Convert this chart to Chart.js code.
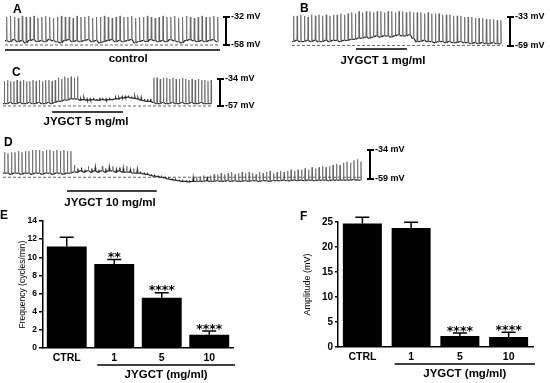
<!DOCTYPE html>
<html>
<head>
<meta charset="utf-8">
<script src="https://cdn.jsdelivr.net/npm/chart.js@4.4.1/dist/chart.umd.min.js"></script>
<style>
  html, body { margin: 0; padding: 0; background: #fff; }
  #fig { position: relative; width: 550px; height: 383px; overflow: hidden; font-family: Arial, "Liberation Sans", sans-serif; }
  #fig canvas { position: absolute; }
  .tag { position: absolute; font-weight: bold; font-size: 12px; line-height: 12px; color: #000; }
</style>
</head>
<body>
<div id="fig">
  <canvas id="trA" style="left:0;top:0" width="275" height="70"></canvas>
  <canvas id="trB" style="left:275px;top:0" width="275" height="70"></canvas>
  <canvas id="trC" style="left:0;top:62px" width="275" height="68"></canvas>
  <canvas id="trD" style="left:0;top:132px" width="420" height="80"></canvas>
  <canvas id="barE" style="left:0;top:210px" width="275" height="173"></canvas>
  <canvas id="barF" style="left:275px;top:210px" width="275" height="173"></canvas>
  <div class="tag" style="left:13px;top:3px">A</div>
  <div class="tag" style="left:300px;top:2px">B</div>
  <div class="tag" style="left:12px;top:66px">C</div>
  <div class="tag" style="left:4px;top:136px">D</div>
  <div class="tag" style="left:0;top:209px">E</div>
  <div class="tag" style="left:300px;top:210px">F</div>
</div>
<script>
// membrane potential, mV: spike peak and inter-spike trough for each cycle
const peaksA = [
  -32,-31,-32,-33,-31,-32,-32,-31,-33,-32,
  -31,-32,-33,-32,-31,-32,-32,-33,-31,-32,
  -32,-31,-33,-32,-32,-31,-32,-33,-32,-31,
  -32,-32,-31,-33,-32,-32,-31,-32,-33,-32,
  -31,-32,-32,-31,-33,-32,-31,-32,-33,-32,
  -31,-32,-32,-31,-32]
const troughsA = [
  -54,-55,-53,-55,-54,-56,-54,-53,-55,-54,
  -55,-53,-54,-55,-56,-54,-53,-55,-54,-55,
  -54,-53,-55,-54,-56,-55,-54,-53,-55,-54,
  -55,-54,-53,-56,-55,-54,-55,-53,-54,-55,
  -54,-55,-53,-54,-55,-56,-54,-53,-54,-55,
  -54,-55,-54,-53,-55]

const peaksB = [
  -32,-32,-31,-32,-33,-31,-32,-31,-32,-31,
  -32,-31,-31,-30,-31,-30,-29,-30,-28,-29,
  -28,-28,-29,-28,-28,-29,-28,-28,-29,-28,
  -28,-29,-28,-29,-29,-29,-30,-29,-30,-30,
  -30,-31,-31,-31,-32,-32,-32,-33,-33,-33,
  -34,-34,-34,-35,-35,-35,-36,-36]
const troughsB = [
  -55,-54,-55,-55,-54,-55,-54,-55,-55,-54,
  -55,-54,-54,-55,-54,-54,-53,-53,-52,-52,
  -51,-52,-51,-50,-51,-50,-50,-51,-50,-49,
  -50,-50,-49,-52,-55,-55,-54,-55,-55,-56,
  -55,-55,-56,-55,-56,-56,-55,-56,-56,-57,
  -56,-57,-56,-57,-57,-56,-57,-57]

const peaksC = [
  -36,-35,-36,-36,-35,-36,-35,-36,-36,-35,
  -36,-35,-36,-35,-35,-36,-35,-33,-34,-32,
  -33,-32,-33,-32,
  -51,-50,-51,-51,-50,-51,-50,-51,-51,-50,
  -51,-50,-50,-49,-49,-48,-49,-49,-50,-50,
  -51,-51,-51,
  -33,-33,-34,-33,-33,-34,-33,-34,-34,-33,
  -34,-35,-34,-35,-34,-35,-35,-36,-35]
const troughsC = [
  -55,-55,-54,-55,-55,-54,-55,-55,-54,-55,
  -55,-54,-55,-55,-54,-55,-54,-53,-53,-52,
  -52,-51,-51,-51,
  -52,-51.5,-52,-52,-51.5,-52,-52,-51.5,-52,-51.5,
  -51.5,-51,-51,-50,-50,-49.5,-50,-50.5,-51,-52,
  -52.5,-53,-53,
  -54,-55,-55,-54,-55,-55,-54,-55,-55,-54,
  -55,-55,-54,-55,-55,-54,-55,-55,-55]

const peaksD = [
  -36,-37,-36,-36,-35,-36,-35,-35,-34,-34,
  -34,-35,-34,-34,-35,-34,-35,-34,-35,-35,
  -47,-50,-49,-51,-48,-50,-49,-51,-48,-50,
  -49,-48,-51,-49,-50,-48,-51,-50,-51,
  -53.5,-54,-54.5,-55.5,-56,-56.5,-57,-57.5,-58.5,-59,
  -59.5,-60,-60.5,-60.5,-61,
  -58,-57,-57,-56,-57,-56,-55,
  -55,-54,-55,-54,-53,-55,-54,-53,-54,-53,
  -54,-55,-53,-54,-53,-52,-54,-53,-52,-53,
  -52,-51,-52,-51,
  -51,-50,-51,-49,-50,-49,-48,-49,-48,
  -47,-46,-47,-45,-44,-45,-43,-42,-44]
const troughsD = [
  -54,-54,-55,-54,-54,-55,-54,-54,-55,-54,
  -54,-55,-54,-54,-55,-54,-54,-55,-54,-54,
  -53,-53,-52,-53,-52,-53,-52,-53,-52,-53,
  -52,-52,-53,-52,-53,-53,-53,-54,-54,
  -54,-54.5,-55,-56,-56.5,-57,-57.5,-58,-59,-59.5,
  -60,-60.5,-61,-61,-61.5,
  -61,-61,-61,-61,-60.5,-61,-61,-60.5,-61,-61,
  -60.5,-61,-60.5,-61,-61,-60.5,-61,-60.5,-60.5,-61,
  -60.5,-60.5,-61,-60.5,-60.5,-60.5,-60,-60.5,-60.5,-60,
  -60.5,-60,-60.5,-60,-60,-60.5,-60,-60,-60,-60.5,
  -60,-60,-60,-60,-60,-60,-59.5,-60,-60]

// summary bars
const doseLabels = [`CTRL`, `1`, `5`, `10`]
const freqMean = [11.2, 9.25, 5.55, 1.45]
const freqSem = [1.0, 0.5, 0.55, 0.42]
const freqStars = [``, `**`, `****`, `****`]
const ampMean = [24.7, 23.8, 2.2, 2.0]
const ampSem = [1.25, 1.15, 0.6, 0.95]
const ampStars = [``, ``, `****`, `****`]

const FONT = `Arial, "Liberation Sans", sans-serif`
Chart.defaults.font.family = FONT
Chart.defaults.color = `#000`

const traceDeco = (p) => ({
  id: `traceDeco`,
  afterDraw(chart) {
    const { ctx, chartArea, scales: { x, y } } = chart
    const bx = chartArea.right + p.barGap
    const yt = y.getPixelForValue(p.top)
    const yb = y.getPixelForValue(p.bottom)
    ctx.save()
    ctx.strokeStyle = `#000`
    ctx.lineWidth = 2
    ctx.beginPath()
    ctx.moveTo(bx, yt); ctx.lineTo(bx, yb)
    ctx.moveTo(bx - 3, yt); ctx.lineTo(bx + 4, yt)
    ctx.moveTo(bx - 3, yb); ctx.lineTo(bx + 4, yb)
    ctx.stroke()
    ctx.fillStyle = `#000`
    ctx.font = `bold 9px ${FONT}`
    ctx.textBaseline = `middle`
    ctx.fillText(`${p.top} mV`, bx + 5, yt)
    ctx.fillText(`${p.bottom} mV`, bx + 5, yb)
    // drug application bar
    const ly = yb + p.lineDrop
    ctx.lineWidth = 1.3
    ctx.beginPath()
    ctx.moveTo(x.getPixelForValue(p.from), ly)
    ctx.lineTo(x.getPixelForValue(p.to), ly)
    ctx.stroke()
    ctx.font = `bold 11.5px ${FONT}`
    ctx.textAlign = `center`
    ctx.fillText(p.caption, x.getPixelForValue(p.captionAt), ly + p.captionDrop)
    ctx.restore()
  },
})

function traceChart(id, peaks, troughs, p) {
  const n = peaks.length
  const pts = []
  peaks.forEach((pk, i) => {
    pts.push(
      { x: i, y: troughs[i] },
      { x: i + 0.32, y: troughs[i] },
      { x: i + 0.42, y: pk },
      { x: i + 0.54, y: troughs[i] }
    )
  })
  const flat = (c) => Math.abs(c.p1.parsed.y - c.p0.parsed.y) < 4
  return new Chart(document.getElementById(id), {
    type: `line`,
    data: {
      datasets: [
        {
          data: pts,
          borderColor: `#555`,
          borderWidth: 0.8,
          pointRadius: 0,
          clip: false,
          segment: {
            borderWidth: (c) => (flat(c) ? 1.2 : 0.8),
            borderColor: (c) => (flat(c) ? `#2a2a2a` : `#666`),
          },
        },
        {
          data: [{ x: 0, y: p.rest }, { x: n, y: p.rest }],
          borderColor: `#666`,
          borderWidth: 1,
          borderDash: [3, 2],
          pointRadius: 0,
          clip: false,
        },
      ],
    },
    options: {
      responsive: false,
      animation: false,
      events: [],
      layout: { padding: p.pad },
      plugins: { legend: { display: false }, tooltip: { enabled: false } },
      scales: {
        x: { type: `linear`, min: 0, max: n, display: false },
        y: { min: p.bottom, max: p.top, display: false },
      },
    },
    plugins: [traceDeco(p)],
  })
}

traceChart(`trA`, peaksA, troughsA, {
  top: -32, bottom: -58, rest: -58, barGap: 6,
  pad: { left: 5, right: 55, top: 17, bottom: 25 },
  from: 0, to: 55, caption: `control`, captionAt: 31.5, lineDrop: 5, captionDrop: 9,
})
traceChart(`trB`, peaksB, troughsB, {
  top: -33, bottom: -59, rest: -58.5, barGap: 7,
  pad: { left: 17, right: 47, top: 17, bottom: 24 },
  from: 17.6, to: 31.6, caption: `JYGCT 1 mg/ml`, captionAt: 25, lineDrop: 3, captionDrop: 12,
})
traceChart(`trC`, peaksC, troughsC, {
  top: -34, bottom: -57, rest: -57, barGap: 7,
  pad: { left: 3, right: 62, top: 17, bottom: 24 },
  from: 15.4, to: 37.7, caption: `JYGCT 5 mg/ml`, captionAt: 26.1, lineDrop: 6, captionDrop: 10,
})
traceChart(`trD`, peaksD, troughsD, {
  top: -34, bottom: -59, rest: -57.5, barGap: 7,
  pad: { left: 3, right: 57, top: 18, bottom: 33 },
  from: 18.3, to: 44, caption: `JYGCT 10 mg/ml`, captionAt: 30.6, lineDrop: 12, captionDrop: 12,
})

const barDeco = (means, sems, stars) => ({
  id: `barDeco`,
  afterDatasetsDraw(chart) {
    const { ctx, chartArea, scales: { y } } = chart
    const bars = chart.getDatasetMeta(0).data
    ctx.save()
    ctx.strokeStyle = `#000`
    ctx.fillStyle = `#000`
    ctx.lineWidth = 1.5
    bars.forEach((b, i) => {
      const top = y.getPixelForValue(means[i] + sems[i])
      ctx.beginPath()
      ctx.moveTo(b.x, b.y); ctx.lineTo(b.x, top)
      ctx.moveTo(b.x - 7, top); ctx.lineTo(b.x + 7, top)
      ctx.stroke()
      if (stars[i]) {
        ctx.font = `bold 12.5px "DejaVu Sans", sans-serif`
        ctx.textAlign = `center`
        ctx.textBaseline = `alphabetic`
        ctx.fillText(stars[i], b.x, top + 1.5)
      }
    })
    // JYGCT group line + label
    const x0 = bars[1].x - bars[1].width / 2 + 3
    const x1 = chartArea.right + 2
    const uy = chartArea.bottom + 17
    ctx.beginPath()
    ctx.moveTo(x0, uy); ctx.lineTo(x1, uy)
    ctx.stroke()
    ctx.font = `bold 11.5px ${FONT}`
    ctx.textAlign = `center`
    ctx.textBaseline = `middle`
    ctx.fillText(`JYGCT (mg/ml)`, (x0 + x1) / 2, uy + 10)
    ctx.restore()
  },
})

function barChart(id, means, sems, stars, p) {
  return new Chart(document.getElementById(id), {
    type: `bar`,
    data: {
      labels: doseLabels,
      datasets: [{ data: means, backgroundColor: `#000`, borderWidth: 0, barPercentage: p.barPct, categoryPercentage: 1 }],
    },
    options: {
      responsive: false,
      animation: false,
      events: [],
      layout: { padding: p.pad },
      plugins: { legend: { display: false }, tooltip: { enabled: false } },
      scales: {
        x: {
          grid: { display: false, drawTicks: false },
          border: { color: `#000`, width: 1.5 },
          ticks: { color: `#000`, font: { weight: `bold`, size: 10.5 }, padding: 4 },
          afterFit: (s) => { s.height = p.xH },
        },
        y: {
          min: 0,
          max: p.max,
          border: { color: `#000`, width: 1.5 },
          grid: { drawOnChartArea: false, drawTicks: true, tickLength: p.tickLen, color: `#000`, lineWidth: 1.5 },
          ticks: { stepSize: p.step, color: `#000`, font: { weight: `bold`, size: p.tickSize }, padding: 2 },
          title: { display: true, text: p.yTitle, color: `#000`, font: { size: p.titleSize } },
          afterFit: (s) => { s.width = p.yW },
        },
      },
    },
    plugins: [barDeco(means, sems, stars)],
  })
}

barChart(`barE`, freqMean, freqSem, freqStars, {
  max: 14, step: 2, yTitle: `Frequency (cycles/min)`, titleSize: 8.5, tickSize: 8.5, tickLen: 4,
  pad: { left: 14, top: 11, right: 42, bottom: 0 }, yW: 29, xH: 35, barPct: 0.84,
})
barChart(`barF`, ampMean, ampSem, ampStars, {
  max: 25, step: 5, yTitle: `Amplitude (mV)`, titleSize: 9, tickSize: 10, tickLen: 3,
  pad: { left: 23, top: 12, right: 17, bottom: 0 }, yW: 40, xH: 36, barPct: 0.8,
})
</script>
</body>
</html>
